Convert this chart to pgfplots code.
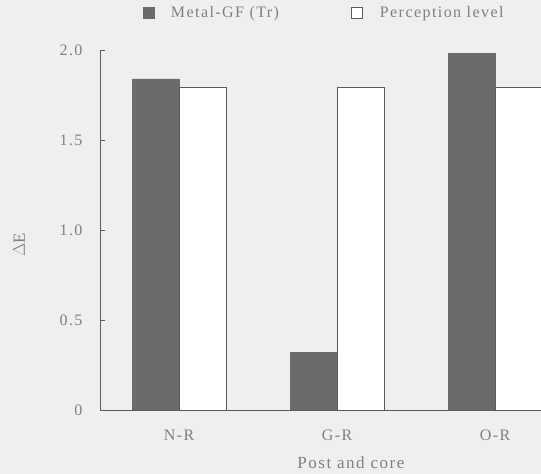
\documentclass[border=0pt]{standalone}
\usepackage{pgfplots}
\pgfplotsset{compat=1.18}
\usepackage{fontspec}
\setmainfont{Liberation Serif}[LetterSpace=9]
\definecolor{bg}{HTML}{EFEFED}
\definecolor{darkbar}{HTML}{6B6B6B}
\definecolor{txt}{HTML}{808080}
\definecolor{axc}{HTML}{5A5A5A}
\begin{document}
\begin{tikzpicture}[x=1pt,y=1pt]
\fill[bg] (0,0) rectangle (541,474);
\useasboundingbox (0,0) rectangle (541,474);
\begin{axis}[
  at={(100pt,64pt)}, anchor=south west,
  scale only axis, width=441pt, height=360pt,
  xmin=-0.5, xmax=2.291, ymin=0, ymax=2,
  axis x line*=bottom, axis y line*=left,
  axis line style={axc, line width=0.8pt},
  ybar=0pt, bar width=47pt,
  xtick={0,1,2}, xticklabels={N-R,G-R,O-R},
  x tick style={draw=none},
  ytick={0,0.5,1,1.5,2},
  yticklabels={0,0.5,1.0,1.5,2.0},
  y tick style={axc, line width=0.8pt},
  tick align=inside, major tick length=5pt,
  ticklabel style={txt, font=\fontsize{16}{19}\selectfont},
  xticklabel style={yshift=-16pt},
  yticklabel style={xshift=-14pt},
  xlabel={Post and core},
  xlabel style={txt, font=\fontsize{17}{20}\selectfont, at={(axis description cs:0.569,-0.145)}, anchor=center},
  ylabel={$\Delta$E},
  ylabel style={txt, font=\fontsize{17}{20}\selectfont, at={(axis description cs:-0.184,0.458)}, anchor=center},
  legend columns=2,
  legend style={draw=none, fill=none, at={(0.508,1.103)}, anchor=center,
    font=\fontsize{16}{19}\selectfont, text=txt,
    /tikz/every even column/.append style={column sep=70pt}},
  legend image code/.code={\draw[#1] (0pt,-5pt) rectangle (11pt,6pt); \path (26pt,0pt);},
]
\addplot[fill=darkbar, draw=darkbar] coordinates {(0,1.84) (1,0.32) (2,1.98)};
\addplot[fill=white, draw=axc, line width=0.8pt] coordinates {(0,1.79) (1,1.79) (2,1.79)};
\legend{Metal-GF (Tr),Perception level}
\end{axis}
\end{tikzpicture}
\end{document}
